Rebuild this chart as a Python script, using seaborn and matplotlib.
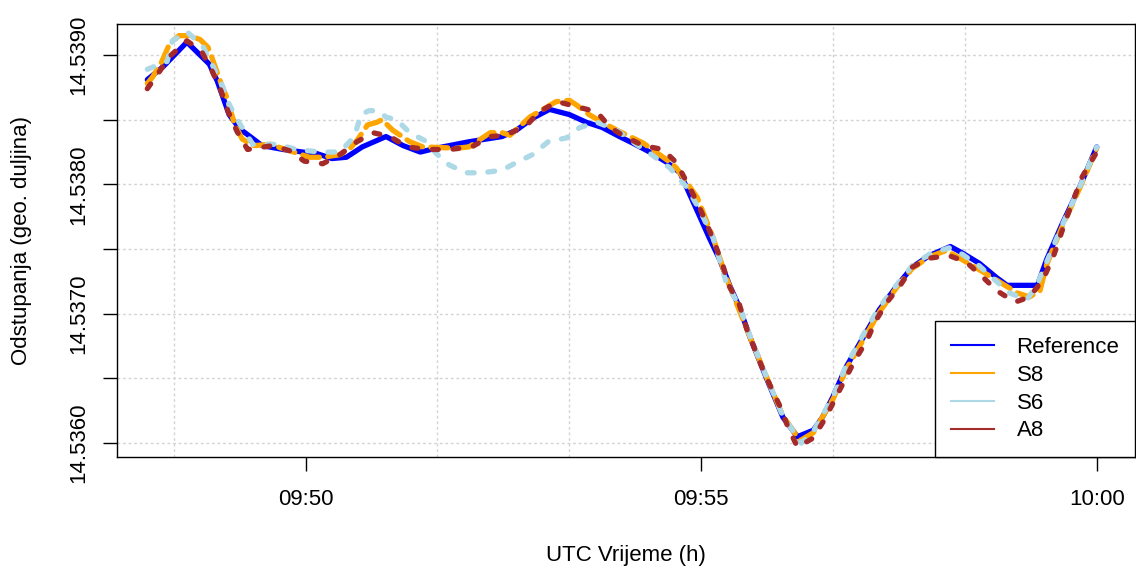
import pandas as pd
import numpy as np
import matplotlib
matplotlib.use('Agg')
import matplotlib.pyplot as plt
import matplotlib.dates as mdates
from matplotlib.lines import Line2D
import seaborn as sns

# time in seconds after 09:48:00 UTC, longitude in degrees
ref_sec = [0, 12, 30, 47, 53, 62, 70, 78, 87, 103, 118, 128, 140, 151, 163, 181, 194, 207, 219, 244,
           269, 280, 292, 305, 320, 333, 345, 358, 368, 381, 394, 404, 411, 419, 426, 434, 442, 449, 457, 470,
           482, 493, 505, 512, 520, 530, 543, 555, 568, 580, 593, 609, 618, 631, 644, 652, 675, 682, 694, 707, 720]
ref_lon = [14.53881, 14.53891, 14.53910, 14.53893, 14.53880, 14.53854, 14.53843, 14.53837, 14.53830, 14.53827,
           14.53825, 14.53824, 14.53820, 14.53821, 14.53829, 14.53837, 14.53830, 14.53825, 14.53828, 14.53833,
           14.53837, 14.53842, 14.53851, 14.53858, 14.53854, 14.53848, 14.53844, 14.53837, 14.53832, 14.53825,
           14.53817, 14.53809, 14.53793, 14.53775, 14.53759, 14.53742, 14.53721, 14.53705, 14.53682, 14.53649,
           14.53620, 14.53605, 14.53610, 14.53620, 14.53636, 14.53659, 14.53682, 14.53703, 14.53721, 14.53736,
           14.53745, 14.53752, 14.53747, 14.53739, 14.53728, 14.53722, 14.53722, 14.53742, 14.53770, 14.53798,
           14.53829]

s8_sec = [0, 4, 11, 17, 24, 32, 40, 46, 49, 57, 60, 66, 72, 81, 93, 108, 123, 133, 146, 153,
          159, 167, 174, 178, 186, 199, 209, 235, 244, 260, 269, 275, 290, 310, 320, 326, 335, 345, 356, 368,
          376, 394, 401, 417, 429, 439, 457, 470, 482, 495, 505, 520, 530, 543, 555, 568, 580, 593, 606, 631,
          644, 660, 669, 677, 682, 694, 707, 720]
s8_lon = [14.53878, 14.53883, 14.53895, 14.53909, 14.53915, 14.53915, 14.53912, 14.53906, 14.53898, 14.53875,
          14.53868, 14.53847, 14.53835, 14.53830, 14.53831, 14.53826, 14.53821, 14.53821, 14.53823, 14.53827,
          14.53834, 14.53846, 14.53848, 14.53850, 14.53842, 14.53833, 14.53829, 14.53828, 14.53829, 14.53840,
          14.53840, 14.53838, 14.53852, 14.53864, 14.53865, 14.53861, 14.53854, 14.53848, 14.53842, 14.53836,
          14.53832, 14.53819, 14.53813, 14.53790, 14.53759, 14.53728, 14.53682, 14.53650, 14.53621, 14.53602,
          14.53608, 14.53634, 14.53657, 14.53680, 14.53701, 14.53720, 14.53735, 14.53744, 14.53749, 14.53734,
          14.53726, 14.53716, 14.53713, 14.53718, 14.53738, 14.53768, 14.53797, 14.53828]

s6_sec = [0, 15, 19, 30, 42, 49, 57, 62, 70, 80, 99, 113, 131, 146, 157, 162, 168, 175, 181, 189,
          199, 212, 219, 229, 242, 254, 269, 280, 292, 304, 318, 328, 341, 356, 368, 381, 396, 409, 419, 429,
          439, 449, 457, 470, 482, 496, 505, 520, 530, 543, 555, 568, 580, 593, 608, 618, 631, 644, 654, 667,
          674, 682, 694, 707, 720]
s6_lon = [14.53889, 14.53895, 14.53911, 14.53918, 14.53907, 14.53893, 14.53876, 14.53862, 14.53847, 14.53831,
          14.53831, 14.53827, 14.53825, 14.53825, 14.53837, 14.53854, 14.53857, 14.53857, 14.53852, 14.53850,
          14.53840, 14.53833, 14.53824, 14.53815, 14.53809, 14.53809, 14.53811, 14.53817, 14.53823, 14.53833,
          14.53836, 14.53844, 14.53848, 14.53842, 14.53833, 14.53824, 14.53813, 14.53798, 14.53780, 14.53759,
          14.53724, 14.53706, 14.53683, 14.53650, 14.53621, 14.53600, 14.53609, 14.53636, 14.53660, 14.53684,
          14.53705, 14.53722, 14.53737, 14.53746, 14.53751, 14.53746, 14.53737, 14.53725, 14.53716, 14.53711,
          14.53721, 14.53740, 14.53769, 14.53798, 14.53829]

a8_sec = [0, 9, 17, 30, 41, 49, 56, 61, 68, 76, 95, 108, 119, 133, 146, 159, 171, 184, 197, 212,
          229, 246, 260, 272, 288, 297, 311, 326, 341, 351, 362, 376, 391, 401, 409, 417, 424, 430, 436, 441,
          449, 455, 466, 473, 480, 486, 493, 505, 514, 521, 529, 536, 546, 552, 561, 571, 580, 593, 608, 621,
          634, 644, 658, 669, 679, 687, 697, 709, 720]
a8_lon = [14.53874, 14.53887, 14.53899, 14.53911, 14.53903, 14.53888, 14.53872, 14.53857, 14.53841, 14.53827,
          14.53830, 14.53826, 14.53818, 14.53816, 14.53823, 14.53833, 14.53840, 14.53837, 14.53829, 14.53827,
          14.53827, 14.53829, 14.53837, 14.53838, 14.53846, 14.53856, 14.53864, 14.53860, 14.53856, 14.53844,
          14.53837, 14.53830, 14.53827, 14.53817, 14.53802, 14.53786, 14.53770, 14.53755, 14.53739, 14.53722,
          14.53707, 14.53687, 14.53659, 14.53643, 14.53628, 14.53612, 14.53597, 14.53604, 14.53619, 14.53633,
          14.53649, 14.53663, 14.53680, 14.53694, 14.53709, 14.53722, 14.53736, 14.53743, 14.53745, 14.53740,
          14.53728, 14.53718, 14.53709, 14.53713, 14.53726, 14.53744, 14.53774, 14.53806, 14.53825]

names = ['Reference', 'S8', 'S6', 'A8']
colors = ['blue', 'orange', 'lightblue', 'brown']

start = pd.Timestamp('2024-01-01 09:48:00')


def to_df(sec, lon):
    return pd.DataFrame({'time': start + pd.to_timedelta(sec, unit='s'), 'lon': lon})


series = [to_df(ref_sec, ref_lon), to_df(s8_sec, s8_lon), to_df(s6_sec, s6_lon), to_df(a8_sec, a8_lon)]
styles = ['-', (0, (3.2, 1.6)), (0, (1.3, 2.6)), (0, (1.1, 2.8))]

plt.rcParams['font.family'] = ['Liberation Sans', 'DejaVu Sans']

fig = plt.figure(figsize=(11.36, 5.69), dpi=100)
ax = fig.add_axes([117 / 1136, 1 - 457 / 569, (1135 - 117) / 1136, (457 - 24) / 569])

for df, c, ls in zip(series, colors, styles):
    sns.lineplot(data=df, x='time', y='lon', color=c, linestyle=ls, linewidth=3.8,
                 dash_capstyle='round', solid_capstyle='round', ax=ax)

ax.set_xlim(start - pd.Timedelta(seconds=23), start + pd.Timedelta(seconds=749))
ax.set_ylim(14.535893, 14.539240)

# x axis: labels every 5 min, grid every 100 s
ax.set_xticks([start + pd.Timedelta(seconds=s) for s in [120, 420, 720]])
ax.xaxis.set_major_formatter(mdates.DateFormatter('%H:%M'))
ax.set_xticks([start + pd.Timedelta(seconds=20 + 100 * k) for k in range(8)], minor=True)

yt = [14.5360, 14.5365, 14.5370, 14.5375, 14.5380, 14.5385, 14.5390]
ax.set_yticks(yt)
ax.set_yticklabels(['%.4f' % v if i % 2 == 0 else '' for i, v in enumerate(yt)])

ax.grid(False)
ax.grid(which='minor', axis='x', color='#d3d3d3', linestyle=(0, (2, 2)), linewidth=1)
ax.grid(which='major', axis='y', color='#d3d3d3', linestyle=(0, (2, 2)), linewidth=1)
ax.set_axisbelow(True)

ax.tick_params(axis='both', which='major', direction='out', length=10, width=1,
               labelsize=16, pad=13, color='black')
ax.tick_params(axis='x', which='minor', length=0)
ax.tick_params(axis='y', labelrotation=90, pad=10)
for lab in ax.get_yticklabels():
    lab.set_va('center')

for sp in ax.spines.values():
    sp.set_color('black')
    sp.set_linewidth(1)

ax.set_xlabel('UTC Vrijeme (h)', fontsize=16)
ax.set_ylabel('Odstupanja (geo. duljina)', fontsize=16)
ax.xaxis.set_label_coords(0.5, (457 - 555) / 433)
ax.xaxis.label.set_va('center')
ax.yaxis.set_label_coords((22 - 117) / 1018, 0.5)
ax.yaxis.label.set_va('center')

handles = [Line2D([], [], color=c, lw=1.5) for c in colors]
leg = ax.legend(handles, names, loc='lower right', fontsize=16, frameon=True, fancybox=False,
                edgecolor='black', framealpha=1, borderaxespad=0, borderpad=0.7,
                labelspacing=0.31, handlelength=1.95, handletextpad=1.0)
leg.get_frame().set_linewidth(1)

plt.savefig('out.png', dpi=100)
